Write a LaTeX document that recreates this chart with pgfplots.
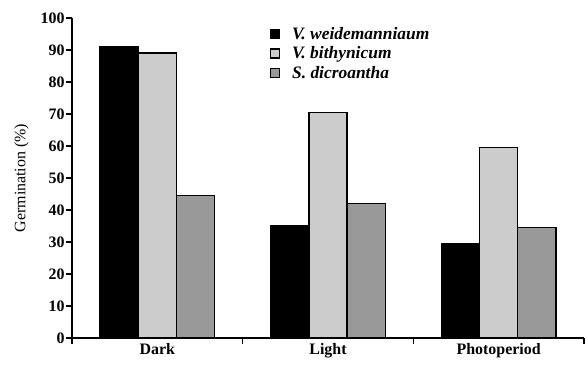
\documentclass[border=0pt]{standalone}
\usepackage{fontspec}
\setmainfont{Liberation Serif}
\usepackage{pgfplots}
\pgfplotsset{compat=1.18}
\definecolor{lgray}{HTML}{CCCCCC}
\definecolor{mgray}{HTML}{999999}
\begin{document}
\begin{tikzpicture}[x=1bp,y=1bp]
\path[use as bounding box] (-72,-26) rectangle (513,338);
\begin{axis}[
  at={(0,0)}, anchor=origin,
  scale only axis, width=512bp, height=320bp,
  xmin=0, xmax=3, ymin=0, ymax=100,
  axis x line*=bottom, axis y line*=left,
  axis line style={line width=1.6bp, -},
  ytick={0,10,...,100},
  yticklabel style={font=\fontsize{16}{16}\selectfont\bfseries, xshift=2bp},
  y tick style={draw=black, line width=1.5bp},
  y tick label style={/pgf/number format/assume math mode=true},
  tick align=outside, major tick length=6bp,
  xtick={0.5,1.5,2.5},
  xticklabels={Dark,Light,Photoperiod},
  x tick style={draw=none},
  xticklabel style={font=\fontsize{16}{16}\selectfont\bfseries, yshift=4bp},
  extra x ticks={0,1,2,3},
  extra x tick labels={},
  extra x tick style={x tick style={draw=black, line width=1.5bp}, major tick length=6bp, tick align=outside},
  ylabel={Germination (\%)},
  ylabel style={font=\fontsize{16}{16}\selectfont, yshift=5bp},
  ybar=0pt, bar width=0.224,
  legend style={draw=none, fill=none, at={(0.38,0.985)}, anchor=north west,
    font=\fontsize{17.5}{17.5}\selectfont\bfseries\itshape, row sep=2bp},
  legend cell align=left,
  legend image code/.code={\draw[#1, line width=1.3bp] (0bp,-4.5bp) rectangle (9bp,4.5bp); \path (19bp,0bp);},
]
\addplot[fill=black, draw=black, line width=1.4bp] coordinates {(0.5,91) (1.5,35) (2.5,29.5)};
\addplot[fill=lgray, draw=black, line width=1.4bp] coordinates {(0.5,89) (1.5,70.5) (2.5,59.5)};
\addplot[fill=mgray, draw=black, line width=1.4bp] coordinates {(0.5,44.5) (1.5,42) (2.5,34.5)};
\legend{V. weidemanniaum, V. bithynicum, S. dicroantha}
\end{axis}
\end{tikzpicture}
\end{document}
